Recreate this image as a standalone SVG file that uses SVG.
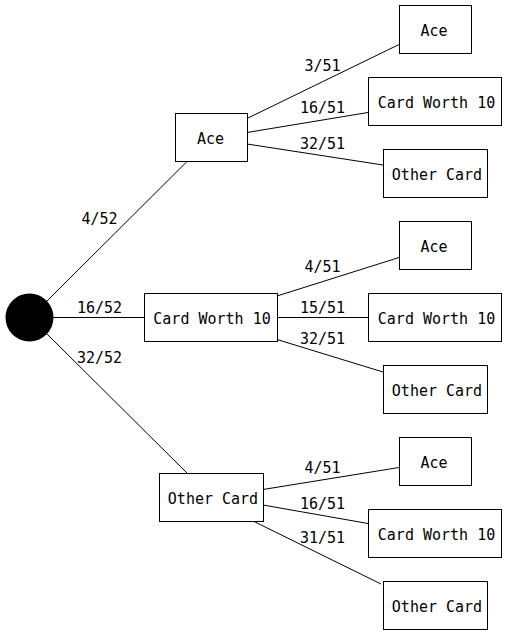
<svg xmlns="http://www.w3.org/2000/svg" width="507" height="635" viewBox="0 0 507 635">
<style>
  .box { fill: #ffffff; stroke: #000000; stroke-width: 1; }
  .edge { stroke: #000000; stroke-width: 1; fill: none; }
  .t { font-family: "DejaVu Sans Mono", "Liberation Mono", monospace; font-size: 15px; fill: #000000; text-anchor: middle; }
</style>
<rect width="507" height="635" fill="#ffffff"/>
<g id="connectors">
  <line class="edge" x1="47" y1="301" x2="187" y2="161.5"/>
  <line class="edge" x1="53" y1="317.5" x2="144" y2="317.5"/>
  <line class="edge" x1="47" y1="334" x2="187" y2="473"/>
  <line class="edge" x1="247" y1="118.5" x2="399" y2="44.5"/>
  <line class="edge" x1="247" y1="132.5" x2="368" y2="112.5"/>
  <line class="edge" x1="247" y1="144" x2="383" y2="165"/>
  <line class="edge" x1="277" y1="296" x2="399" y2="257.5"/>
  <line class="edge" x1="277" y1="317.5" x2="368" y2="317.5"/>
  <line class="edge" x1="277" y1="339.5" x2="383" y2="372"/>
  <line class="edge" x1="263" y1="489.5" x2="399" y2="467.5"/>
  <line class="edge" x1="263" y1="505" x2="368" y2="523.5"/>
  <line class="edge" x1="254" y1="521.5" x2="381" y2="584"/>
  <text class="t" x="99.5" y="224">4/52</text>
  <text class="t" x="99.5" y="313">16/52</text>
  <text class="t" x="99.5" y="363">32/52</text>
  <text class="t" x="322.5" y="71">3/51</text>
  <text class="t" x="322.5" y="113">16/51</text>
  <text class="t" x="322.5" y="149">32/51</text>
  <text class="t" x="322.5" y="272">4/51</text>
  <text class="t" x="322.5" y="313">15/51</text>
  <text class="t" x="322.5" y="344">32/51</text>
  <text class="t" x="322.5" y="473">4/51</text>
  <text class="t" x="322.5" y="509">16/51</text>
  <text class="t" x="322.5" y="543">31/51</text>
</g>
<g id="root">
  <circle cx="29.5" cy="317.5" r="24" fill="#000000"/>
</g>
<g id="n-ace">
  <rect class="box" x="175.5" y="113.5" width="72" height="48"/>
  <text class="t" x="210.5" y="144">Ace</text>
</g>
<g id="n-cw10">
  <rect class="box" x="144.5" y="293.5" width="133" height="48"/>
  <text class="t" x="212" y="324">Card Worth 10</text>
</g>
<g id="n-other">
  <rect class="box" x="159.5" y="473.5" width="104" height="48"/>
  <text class="t" x="213" y="504">Other Card</text>
</g>
<g id="n-ace-ace">
  <rect class="box" x="399.5" y="5.5" width="72" height="48"/>
  <text class="t" x="434" y="36">Ace</text>
</g>
<g id="n-ace-cw10">
  <rect class="box" x="368.5" y="77.5" width="133" height="48"/>
  <text class="t" x="436.5" y="108">Card Worth 10</text>
</g>
<g id="n-ace-other">
  <rect class="box" x="383.5" y="149.5" width="104" height="48"/>
  <text class="t" x="437" y="180">Other Card</text>
</g>
<g id="n-cw10-ace">
  <rect class="box" x="399.5" y="221.5" width="72" height="48"/>
  <text class="t" x="434" y="252">Ace</text>
</g>
<g id="n-cw10-cw10">
  <rect class="box" x="368.5" y="293.5" width="133" height="48"/>
  <text class="t" x="436.5" y="324">Card Worth 10</text>
</g>
<g id="n-cw10-other">
  <rect class="box" x="383.5" y="365.5" width="104" height="48"/>
  <text class="t" x="437" y="396">Other Card</text>
</g>
<g id="n-other-ace">
  <rect class="box" x="399.5" y="437.5" width="72" height="48"/>
  <text class="t" x="434" y="468">Ace</text>
</g>
<g id="n-other-cw10">
  <rect class="box" x="368.5" y="509.5" width="133" height="48"/>
  <text class="t" x="436.5" y="540">Card Worth 10</text>
</g>
<g id="n-other-other">
  <rect class="box" x="383.5" y="581.5" width="104" height="48"/>
  <text class="t" x="437" y="612">Other Card</text>
</g>
</svg>
